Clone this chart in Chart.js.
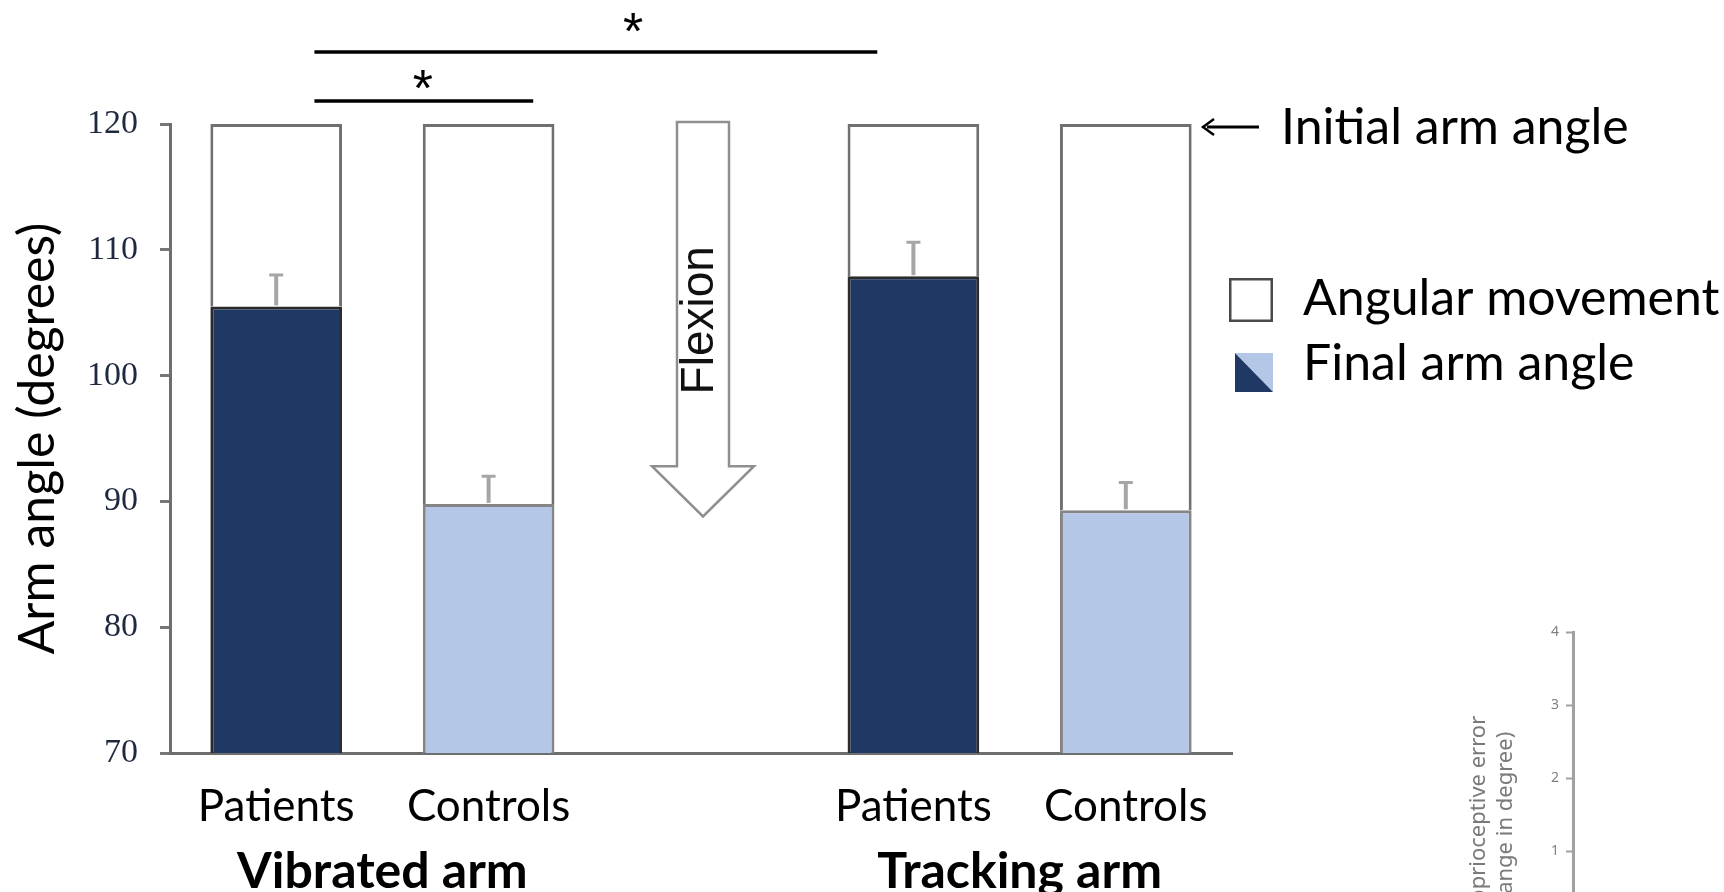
<!DOCTYPE html>
<html>
<head>
<meta charset="utf-8">
<script src="https://cdn.jsdelivr.net/npm/chart.js@4/dist/chart.umd.min.js"></script>
<style>
  html, body { margin: 0; padding: 0; background: #fff; overflow: hidden; }
  #page { position: relative; width: 1724px; height: 892px; overflow: hidden; }
  #main { position: absolute; left: 0; top: 0; }
  #inset { position: absolute; left: 1460px; top: 600px; }
</style>
</head>
<body>
<div id="page">
  <canvas id="main" width="1724" height="892"></canvas>
  <canvas id="inset" width="160" height="340"></canvas>
</div>
<script>
// Arm angles (degrees) per group, read per category.
const categories = ['Patients', 'Controls', '', 'Patients', 'Controls'];
const categoryGroup = [0, 0, null, 1, 1];
const groupNames = ['Vibrated arm', 'Tracking arm'];
const initialAngle = [120, 120, null, 120, 120];
const finalAngle = [105.5, 89.8, null, 107.9, 89.3];
const finalAngleSE = [2.5, 2.2, null, 2.7, 2.2];
const angleTicks = [70, 80, 90, 100, 110, 120];
const insetTicks = [0, 1, 2, 3, 4];

const NAVY = '#203864';
const LIGHT = '#b4c7e7';
const SANS = 'Lato, "Open Sans", sans-serif';

// Centre of each group in category units (mean of its member indices).
const groupCenters = groupNames.map((_, g) => {
  const idx = categoryGroup.map((c, i) => (c === g ? i : null)).filter(i => i !== null);
  return idx.reduce((a, b) => a + b, 0) / idx.length;
});

const finalBars = finalAngle.map(v => (v == null ? null : [angleTicks[0], v]));
const movementBars = finalAngle.map((v, i) => (v == null ? null : [v, initialAngle[i]]));

const fillFor = i => (categories[i] === 'Patients' ? NAVY : LIGHT);
const edgeFor = i => (categories[i] === 'Patients' ? '#2b2b2b' : '#858585');

// Significance brackets above the bars (category units, px above plot top).
const brackets = [
  { from: 0.18, to: 1.21, star: 0.69, lineUp: 23, starUp: 45 },
  { from: 0.18, to: 2.83, star: 1.68, lineUp: 72, starUp: 102 }
];

const errorBars = {
  id: 'errorBars',
  afterDatasetsDraw(chart) {
    const { ctx, scales: { y } } = chart;
    const meta = chart.getDatasetMeta(0);
    ctx.save();
    finalAngle.forEach((v, i) => {
      if (v == null) return;
      const bar = meta.data[i];
      const x = bar.x;
      const y0 = y.getPixelForValue(v);
      const y1 = y.getPixelForValue(v + finalAngleSE[i]);
      ctx.strokeStyle = '#a6a6a6';
      ctx.lineWidth = 4;
      ctx.beginPath();
      ctx.moveTo(x, y0 - 1);
      ctx.lineTo(x, y1);
      ctx.stroke();
      ctx.lineWidth = 3;
      ctx.beginPath();
      ctx.moveTo(x - 7, y1);
      ctx.lineTo(x + 7, y1);
      ctx.stroke();
    });
    ctx.restore();
  }
};

const decorations = {
  id: 'decorations',
  afterDraw(chart) {
    const { ctx, chartArea: area, scales: { x, y } } = chart;
    ctx.save();

    // Flexion arrow in the empty middle slot
    const cx = x.getPixelForValue(2) + 2;
    const top = y.getPixelForValue(120) - 2;
    const headBase = y.getPixelForValue(92.8);
    const tip = y.getPixelForValue(88.8);
    ctx.beginPath();
    ctx.moveTo(cx - 26, top);
    ctx.lineTo(cx + 26, top);
    ctx.lineTo(cx + 26, headBase);
    ctx.lineTo(cx + 51, headBase);
    ctx.lineTo(cx, tip);
    ctx.lineTo(cx - 51, headBase);
    ctx.lineTo(cx - 26, headBase);
    ctx.closePath();
    ctx.fillStyle = '#fff';
    ctx.fill();
    ctx.strokeStyle = '#8f8f8f';
    ctx.lineWidth = 2.5;
    ctx.stroke();

    ctx.save();
    ctx.translate(cx - 3, top + 0.576 * (headBase - top));
    ctx.rotate(-Math.PI / 2);
    ctx.fillStyle = '#111';
    ctx.font = '46px "Liberation Sans", Arial, sans-serif';
    ctx.textAlign = 'center';
    ctx.textBaseline = 'middle';
    ctx.fillText('Flexion', 0, 0);
    ctx.restore();

    // Initial arm angle marker
    const ay = y.getPixelForValue(120) + 3;
    const ax0 = area.right - 29;
    ctx.strokeStyle = '#000';
    ctx.fillStyle = '#000';
    ctx.lineWidth = 3;
    ctx.beginPath();
    ctx.moveTo(ax0 + 4, ay);
    ctx.lineTo(ax0 + 56, ay);
    ctx.stroke();
    ctx.lineWidth = 2.5;
    ctx.beginPath();
    ctx.moveTo(ax0 + 11, ay - 8);
    ctx.lineTo(ax0, ay);
    ctx.lineTo(ax0 + 11, ay + 8);
    ctx.stroke();
    ctx.font = '50px ' + SANS;
    ctx.textAlign = 'left';
    ctx.textBaseline = 'middle';
    ctx.fillText('Initial arm angle', area.right + 49, ay + 1);

    // Legend
    const lx = area.right - 3;
    ctx.fillStyle = '#fff';
    ctx.fillRect(lx, 278, 44, 44);
    ctx.strokeStyle = '#4a4a4a';
    ctx.lineWidth = 2.5;
    ctx.strokeRect(lx + 1.25, 279.25, 41.5, 41.5);
    ctx.beginPath();
    ctx.moveTo(lx + 6, 353);
    ctx.lineTo(lx + 44, 353);
    ctx.lineTo(lx + 44, 392);
    ctx.closePath();
    ctx.fillStyle = LIGHT;
    ctx.fill();
    ctx.beginPath();
    ctx.moveTo(lx + 6, 353);
    ctx.lineTo(lx + 44, 392);
    ctx.lineTo(lx + 6, 392);
    ctx.closePath();
    ctx.fillStyle = NAVY;
    ctx.fill();
    ctx.fillStyle = '#000';
    ctx.textBaseline = 'alphabetic';
    ctx.fillText('Angular movement', lx + 74, 315);
    ctx.fillText('Final arm angle', lx + 74, 380);

    // Significance brackets
    ctx.strokeStyle = '#000';
    ctx.lineWidth = 3.5;
    ctx.font = '52px "Liberation Sans", Arial, sans-serif';
    ctx.textAlign = 'center';
    brackets.forEach(b => {
      const ly = area.top - b.lineUp;
      ctx.beginPath();
      ctx.moveTo(x.getPixelForValue(b.from), ly);
      ctx.lineTo(x.getPixelForValue(b.to), ly);
      ctx.stroke();
      const m = ctx.measureText('*');
      const sy = area.top - b.starUp + (m.actualBoundingBoxAscent - m.actualBoundingBoxDescent) / 2;
      ctx.fillText('*', x.getPixelForValue(b.star), sy);
    });

    ctx.restore();
  }
};

new Chart(document.getElementById('main'), {
  type: 'bar',
  data: {
    labels: categories,
    datasets: [
      {
        label: 'Final arm angle',
        data: finalBars,
        backgroundColor: categories.map((_, i) => fillFor(i)),
        borderColor: categories.map((_, i) => edgeFor(i)),
        borderWidth: 3,
        borderSkipped: 'start'
      },
      {
        label: 'Angular movement',
        data: movementBars,
        backgroundColor: '#ffffff',
        borderColor: '#707070',
        borderWidth: 3,
        borderSkipped: 'start'
      }
    ]
  },
  options: {
    responsive: false,
    animation: false,
    events: [],
    layout: { padding: { top: 124, right: 492, bottom: 0, left: 0 } },
    datasets: { bar: { grouped: false, categoryPercentage: 1, barPercentage: 0.62 } },
    plugins: { legend: { display: false }, tooltip: { enabled: false } },
    scales: {
      x: {
        type: 'category',
        offset: true,
        grid: { display: false },
        border: { display: true, color: '#6e6e6e', width: 3 },
        ticks: { font: { family: SANS, size: 44 }, color: '#000', padding: 19, autoSkip: false, maxRotation: 0 },
        afterFit: s => { s.height = 75; }
      },
      x2: {
        type: 'linear',
        position: 'bottom',
        offset: false,
        min: -0.5,
        max: categories.length - 0.5,
        grid: { display: false },
        border: { display: false },
        afterBuildTicks: s => { s.ticks = groupCenters.map(v => ({ value: v })); },
        ticks: {
          callback: v => groupNames[groupCenters.indexOf(v)],
          font: { family: SANS, size: 50, weight: 'bold' },
          color: '#000',
          padding: 6,
          maxRotation: 0,
          autoSkip: false
        },
        afterFit: s => { s.height = 64; }
      },
      y: {
        min: angleTicks[0],
        max: angleTicks[angleTicks.length - 1],
        afterBuildTicks: s => { s.ticks = angleTicks.map(v => ({ value: v })); },
        grid: { drawOnChartArea: false, drawTicks: true, tickLength: 10, tickWidth: 3, tickColor: '#777' },
        border: { display: true, color: '#6e6e6e', width: 3 },
        ticks: { font: { family: '"Liberation Serif", serif', size: 34 }, color: '#1f2a40', padding: 22 },
        title: {
          display: true,
          text: 'Arm angle (degrees)',
          font: { family: SANS, size: 50 },
          color: '#000',
          padding: { top: 8, bottom: 0 }
        },
        afterFit: s => { s.width = 170; }
      }
    }
  },
  plugins: [errorBars, decorations]
});

// Neighbouring panel: proprioceptive error axis
new Chart(document.getElementById('inset'), {
  type: 'bar',
  data: { labels: [''], datasets: [] },
  options: {
    responsive: false,
    animation: false,
    events: [],
    layout: { padding: { top: 32, right: 20, bottom: 12, left: 0 } },
    plugins: { legend: { display: false }, tooltip: { enabled: false } },
    scales: {
      x: { display: false },
      y: {
        min: insetTicks[0],
        max: insetTicks[insetTicks.length - 1],
        afterBuildTicks: s => { s.ticks = insetTicks.map(v => ({ value: v })); },
        grid: { drawOnChartArea: false, tickLength: 7, tickWidth: 2, tickColor: '#a0a0a0' },
        border: { color: '#a0a0a0', width: 3 },
        ticks: { font: { family: '"Noto Sans", sans-serif', size: 14 }, color: '#808080', padding: 7 },
        title: {
          display: true,
          text: ['Proprioceptive error', '(change in degree)'],
          font: { family: '"Noto Sans", sans-serif', size: 22 },
          color: '#7a7a7a',
          align: 'start',
          padding: { top: 6, bottom: 0 }
        },
        afterFit: s => { s.width = 113; }
      }
    }
  }
});
</script>
</body>
</html>
